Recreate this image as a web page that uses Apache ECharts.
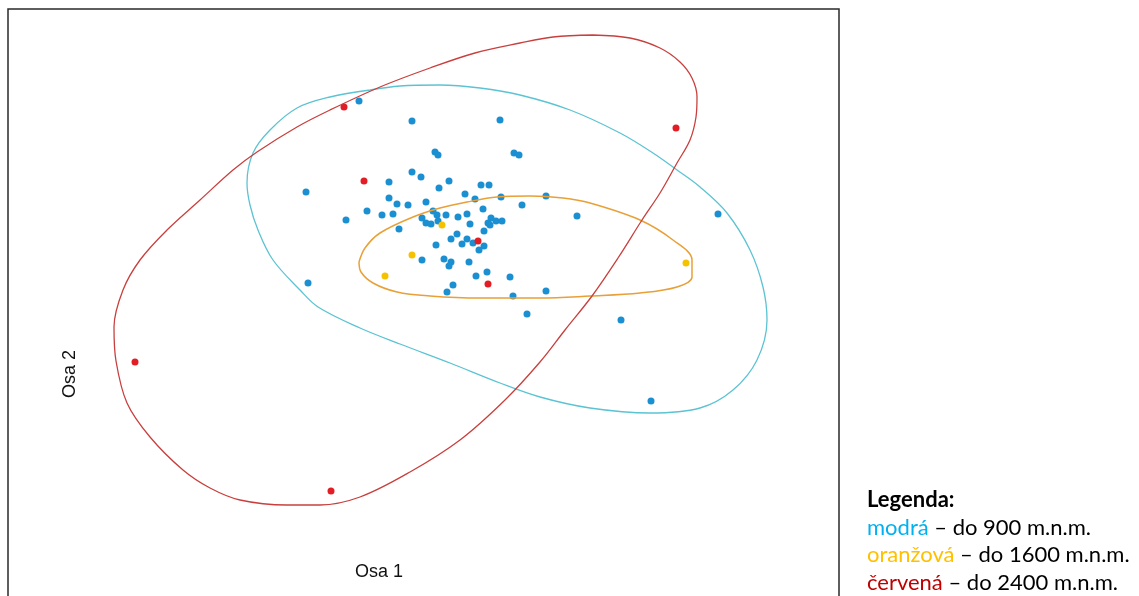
<!DOCTYPE html>
<html>
<head>
<meta charset="utf-8">
<script src="https://cdn.jsdelivr.net/npm/echarts@6/dist/echarts.min.js"></script>
<style>
  html, body { margin: 0; padding: 0; background: #fff; }
  #chart { width: 1139px; height: 596px; }
</style>
</head>
<body>
<div id="chart"></div>
<script>
// Ordination scores of the sites (Osa 1, Osa 2), grouped by altitude class
const blueSites = [
  [-0.65, 2.08], [-0.12, 1.88], [0.76, 1.89], [0.11, 1.57], [0.14, 1.54],
  [0.90, 1.56], [0.95, 1.54], [-0.12, 1.37], [-0.03, 1.32], [-0.35, 1.27],
  [0.25, 1.28], [0.15, 1.21], [0.57, 1.24], [0.65, 1.24], [-1.18, 1.17],
  [-0.35, 1.11], [-0.27, 1.05], [-0.16, 1.04], [0.02, 1.07], [0.41, 1.15],
  [0.51, 1.10], [0.77, 1.12], [1.22, 1.13], [0.98, 1.04], [0.59, 1.00],
  [-0.57, 0.98], [-0.42, 0.94], [-0.31, 0.95], [-0.78, 0.89], [0.09, 0.98],
  [0.13, 0.94], [0.22, 0.94], [0.34, 0.92], [0.43, 0.95], [-0.02, 0.91],
  [0.02, 0.86], [0.07, 0.85], [0.14, 0.88], [0.46, 0.85], [0.67, 0.91],
  [0.64, 0.86], [0.66, 0.84], [0.72, 0.88], [0.78, 0.88], [1.53, 0.93],
  [2.94, 0.95], [-0.25, 0.80], [0.60, 0.78], [0.33, 0.75], [0.27, 0.70],
  [0.43, 0.70], [0.38, 0.65], [0.49, 0.66], [0.60, 0.63], [0.55, 0.59],
  [0.12, 0.64], [-0.02, 0.49], [0.20, 0.50], [0.27, 0.47], [0.25, 0.43],
  [0.45, 0.47], [-1.16, 0.26], [0.29, 0.24], [0.23, 0.17], [0.52, 0.33],
  [0.63, 0.37], [0.86, 0.32], [0.89, 0.13], [1.22, 0.18], [1.03, -0.05],
  [1.97, -0.11], [2.27, -0.92]
];
const orangeSites = [
  [0.18, 0.84], [-0.12, 0.54], [-0.39, 0.33], [2.62, 0.46]
];
const redSites = [
  [-0.80, 2.02], [-0.60, 1.28], [0.54, 0.68], [0.64, 0.25],
  [2.52, 1.81], [-2.89, -0.53], [-0.93, -1.82]
];

// Outlines enclosing each altitude class
const blueHull = [
  [-0.54, 2.19], [-0.24, 2.23], [0.16, 2.24], [0.56, 2.21], [0.96, 2.14],
  [1.46, 1.99], [1.96, 1.76], [2.29, 1.56], [2.53, 1.39], [2.76, 1.22],
  [3.03, 0.96], [3.26, 0.59], [3.39, 0.22], [3.43, -0.11], [3.33, -0.51],
  [3.09, -0.81], [2.76, -0.99], [2.26, -1.04], [1.66, -0.99], [1.16, -0.88],
  [0.76, -0.74], [0.26, -0.54], [-0.24, -0.35], [-0.64, -0.19], [-1.06, 0.02],
  [-1.24, 0.19], [-1.51, 0.49], [-1.66, 0.79], [-1.74, 1.04], [-1.77, 1.26],
  [-1.71, 1.56], [-1.54, 1.79], [-1.27, 2.01], [-0.94, 2.12], [-0.54, 2.19]
];
const orangeHull = [
  [-0.65, 0.47], [-0.59, 0.61], [-0.44, 0.76], [-0.11, 0.92], [0.16, 1.01],
  [0.43, 1.07], [0.73, 1.12], [1.06, 1.13], [1.39, 1.11], [1.66, 1.06],
  [2.16, 0.89], [2.49, 0.69], [2.68, 0.49], [2.68, 0.32], [2.53, 0.22],
  [2.16, 0.16], [1.66, 0.13], [1.16, 0.11], [0.56, 0.11], [0.06, 0.13],
  [-0.27, 0.17], [-0.51, 0.26], [-0.63, 0.37], [-0.65, 0.47]
];
const redHull = [
  [1.69, 2.74], [2.06, 2.71], [2.36, 2.61], [2.56, 2.47], [2.68, 2.31],
  [2.73, 2.12], [2.72, 1.92], [2.66, 1.69], [2.53, 1.46], [2.36, 1.16],
  [2.18, 0.89], [1.94, 0.51], [1.68, 0.13], [1.41, -0.21], [1.16, -0.53],
  [0.81, -0.91], [0.36, -1.31], [-0.14, -1.63], [-0.64, -1.88], [-1.04, -1.96],
  [-1.37, -1.96], [-1.84, -1.91], [-2.14, -1.79], [-2.41, -1.61], [-2.74, -1.28],
  [-2.97, -0.94], [-3.08, -0.52], [-3.10, -0.18], [-3.01, 0.19], [-2.84, 0.49],
  [-2.57, 0.79], [-2.24, 1.09], [-1.91, 1.39], [-1.67, 1.57], [-1.27, 1.82],
  [-0.94, 1.99], [-0.44, 2.22], [0.06, 2.41], [0.51, 2.56], [0.96, 2.66],
  [1.29, 2.72], [1.69, 2.74]
];

const axisNames = ['Osa 1', 'Osa 2'];
const legendTitle = 'Legenda:';
const legendRows = [
  ['modrá', ' – do 900 m.n.m.'],
  ['oranžová', ' – do 1600 m.n.m.'],
  ['červená', ' – do 2400 m.n.m.']
];

const chart = echarts.init(document.getElementById('chart'), null, { renderer: 'canvas' });

const hiddenAxis = {
  axisLine: { show: false },
  axisTick: { show: false },
  axisLabel: { show: false },
  splitLine: { show: false }
};

function scatter(data, color) {
  return {
    type: 'scatter', data: data, symbol: 'circle', symbolSize: 7,
    itemStyle: { color: color, opacity: 1 }, z: 2, silent: true
  };
}
function outline(data, color, width) {
  return {
    type: 'line', data: data, smooth: 0.35, symbol: 'none',
    lineStyle: { color: color, width: width }, z: 3, silent: true
  };
}

const legendFont = 'Lato, "Open Sans", sans-serif';
const legendText = '{t|' + legendTitle + '}\n' + legendRows.map(function (r, i) {
  return '{c' + i + '|' + r[0] + '}{k|' + r[1] + '}';
}).join('\n');

chart.setOption({
  animation: false,
  backgroundColor: '#ffffff',
  grid: {
    left: 8, top: 9, width: 831, height: 600,
    outerBoundsMode: 'none',
    show: true, borderColor: '#2a2a2a', borderWidth: 1.5, backgroundColor: 'transparent'
  },
  xAxis: Object.assign({ type: 'value', min: -4.16, max: 4.15 }, hiddenAxis),
  yAxis: Object.assign({ type: 'value', min: -3, max: 3 }, hiddenAxis),
  series: [
    scatter(blueSites, '#1a8fd1'),
    scatter(orangeSites, '#f6c200'),
    scatter(redSites, '#e31d25'),
    outline(blueHull, '#5cc3d3', 1.3),
    outline(orangeHull, '#e8a037', 1.5),
    outline(redHull, '#c8403e', 1.3)
  ],
  graphic: [
    {
      type: 'text', left: 355, top: 563,
      style: { text: axisNames[0], font: '18px "Liberation Sans", Arial, sans-serif', fill: '#111' }
    },
    {
      type: 'text', x: 70, y: 374, rotation: Math.PI / 2,
      style: {
        text: axisNames[1], font: '18px "Liberation Sans", Arial, sans-serif', fill: '#111',
        align: 'center', verticalAlign: 'middle'
      }
    },
    {
      type: 'text', left: 867, top: 489,
      style: {
        text: legendText,
        rich: {
          t: { fontFamily: legendFont, fontSize: 22, fontWeight: 'bold', fill: '#000', lineHeight: 27.5 },
          c0: { fontFamily: legendFont, fontSize: 22, fill: '#00b0f0', lineHeight: 27.5 },
          c1: { fontFamily: legendFont, fontSize: 22, fill: '#ffc000', lineHeight: 27.5 },
          c2: { fontFamily: legendFont, fontSize: 22, fill: '#c00000', lineHeight: 27.5 },
          k: { fontFamily: legendFont, fontSize: 22, fill: '#000', lineHeight: 27.5 }
        }
      }
    }
  ]
});
</script>
</body>
</html>
